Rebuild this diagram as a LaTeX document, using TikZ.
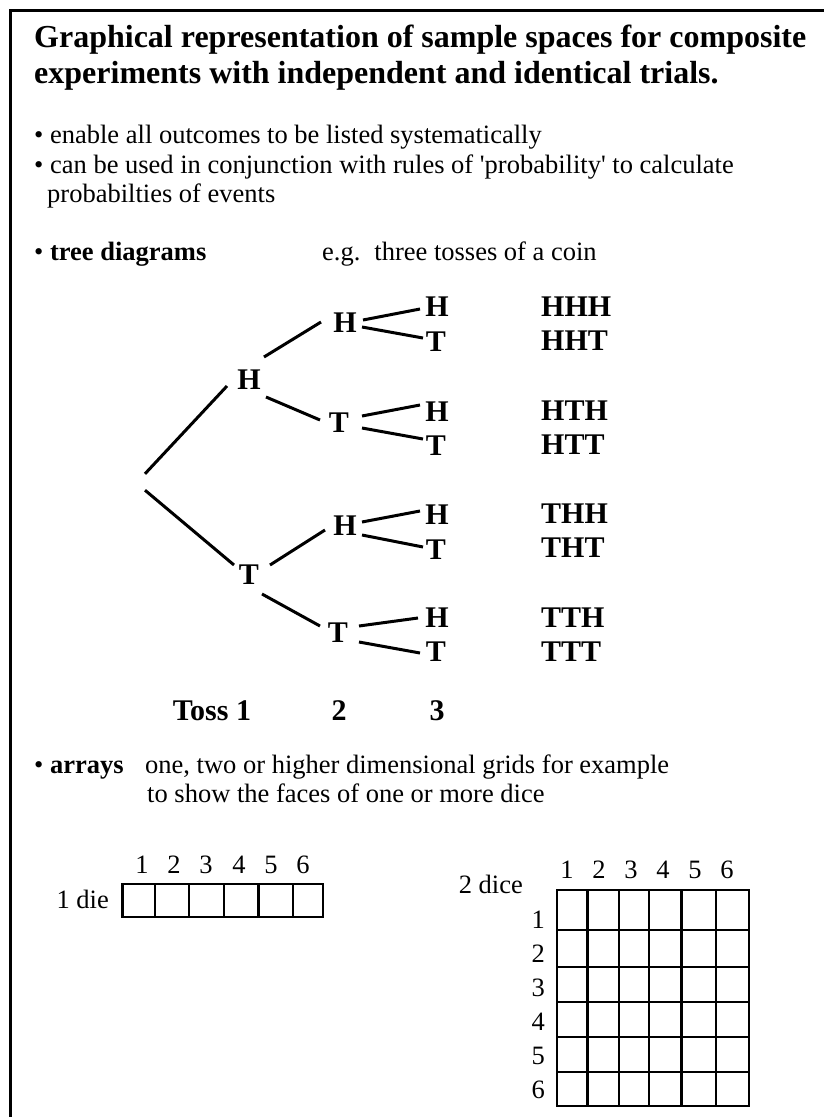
\documentclass[tikz,border=0pt]{standalone}
\usepackage{fontspec}
\setmainfont{Liberation Serif}
\begin{document}
\begin{tikzpicture}[x=1pt,y=-1pt,
  txt/.style={inner sep=0pt, anchor=base west, font=\fontsize{26.5}{30}\selectfont},
  ttl/.style={inner sep=0pt, anchor=base west, font=\fontsize{32}{36}\selectfont\bfseries},
  tr/.style={inner sep=0pt, font=\fontsize{30}{34}\selectfont\bfseries},
  outc/.style={inner sep=0pt, anchor=west, font=\fontsize{30}{34}\selectfont\bfseries},
  branch/.style={line width=3pt},
  gridl/.style={line width=2.3pt},
  frame/.style={line width=2.7pt}]

\useasboundingbox (0,0) rectangle (824,1117);
\fill[white] (0,0) rectangle (824,1117);
\draw[frame, line join=miter] (10.7,1117) -- (10.7,10.7) -- (824,10.7);

% title
\node[ttl] (t1) at (34,47) {Graphical representation of sample spaces for composite};
\node[ttl] (t2) at (34,83) {experiments with independent and identical trials.};

% bullets
\node[txt] (b1) at (34,143) {• enable all outcomes to be listed systematically};
\node[txt] (b2) at (34,173) {• can be used in conjunction with rules of \textquotesingle probability\textquotesingle{} to calculate};
\node[txt] (b3) at (47,202) {probabilties of events};
\node[txt] (td) at (34,260) {• \textbf{tree diagrams}};
\node[txt] (eg) at (322,260) {e.g.\hspace{14pt}three tosses of a coin};

% tree nodes
\node[inner sep=0pt, minimum height=16pt, minimum width=0pt] (root) at (145,482) {};
\node[tr] (L1H) at (249,380) {H};
\node[tr] (L1T) at (249,575) {T};
\node[tr] (L2H1) at (345,323) {H};
\node[tr] (L2T1) at (339,423) {T};
\node[tr] (L2H2) at (345,526) {H};
\node[tr] (L2T2) at (338,633) {T};
\node[tr] (L3H1) at (437,307) {H};
\node[tr] (L3T1) at (436,342) {T};
\node[tr] (L3H2) at (437,412) {H};
\node[tr] (L3T2) at (436,446) {T};
\node[tr] (L3H3) at (437,515) {H};
\node[tr] (L3T3) at (436,550) {T};
\node[tr] (L3H4) at (437,618) {H};
\node[tr] (L3T4) at (436,652) {T};

% outcomes
\node[outc] (o1) at (541,307) {HHH};
\node[outc] (o2) at (541,341) {HHT};
\node[outc] (o3) at (541,411) {HTH};
\node[outc] (o4) at (541,445) {HTT};
\node[outc] (o5) at (541,514) {THH};
\node[outc] (o6) at (541,548) {THT};
\node[outc] (o7) at (541,618) {TTH};
\node[outc] (o8) at (541,652) {TTT};

% toss labels
\node[tr] (toss1) at (212,711) {Toss 1};
\node[tr] (toss2) at (339,711) {2};
\node[tr] (toss3) at (437,711) {3};

% branches
\draw[branch] (root.north) -- ([xshift=-22pt,yshift=-6pt]L1H.center);
\draw[branch] ([xshift=15pt,yshift=23pt]L1H.center) -- ([xshift=-24pt,yshift=1pt]L2H1.center);
\draw[branch] ([xshift=17pt,yshift=-17pt]L1H.center) -- ([xshift=-19pt,yshift=3pt]L2T1.center);
\draw[branch] ([xshift=18pt,yshift=3pt]L2H1.center) -- ([xshift=-17pt,yshift=-2pt]L3H1.center);
\draw[branch] ([xshift=17pt,yshift=-4pt]L2H1.center) -- ([xshift=-13pt,yshift=4pt]L3T1.center);
\draw[branch] ([xshift=23pt,yshift=7pt]L2T1.center) -- ([xshift=-17pt,yshift=7pt]L3H2.center);
\draw[branch] ([xshift=23pt,yshift=-5pt]L2T1.center) -- ([xshift=-13pt,yshift=7pt]L3T2.center);
\draw[branch] (root.south) -- ([xshift=-15pt,yshift=10pt]L1T.center);
\draw[branch] ([xshift=21pt,yshift=10pt]L1T.center) -- ([xshift=-20pt,yshift=-4pt]L2H2.center);
\draw[branch] ([xshift=13pt,yshift=-19pt]L1T.center) -- ([xshift=-18pt,yshift=7pt]L2T2.center);
\draw[branch] ([xshift=17pt,yshift=4pt]L2H2.center) -- ([xshift=-17pt,yshift=4pt]L3H3.center);
\draw[branch] ([xshift=17pt,yshift=-9pt]L2H2.center) -- ([xshift=-13pt,yshift=3pt]L3T3.center);
\draw[branch] ([xshift=21pt,yshift=7pt]L2T2.center) -- ([xshift=-19pt]L3H4.center);
\draw[branch] ([xshift=21pt,yshift=-9pt]L2T2.center) -- ([xshift=-16pt,yshift=-1pt]L3T4.center);

% arrays text
\node[txt] (ar) at (34,773) {• \textbf{arrays}};
\node[txt] (ar1) at (145,773) {one, two or higher dimensional grids for example};
\node[txt] (ar2) at (147,802) {to show the faces of one or more dice};

% 1 die
\node[txt, anchor=base east] (die1) at (109,908) {1 die};
\draw[gridl] (122.4,884.3) rectangle (323,917.3);
\foreach \x in {155,189,224,258.5,292.7} \draw[gridl] (\x,884.3) -- (\x,917.3);
\foreach \i/\x in {1/142,2/174,3/206,4/239,5/271,6/303}
  \node[txt, anchor=base] (da\i) at (\x,873) {\i};

% 2 dice
\node[txt, anchor=base east] (die2) at (523,893) {2 dice};
\draw[gridl] (557,890) rectangle (749,1106);
\foreach \x in {587.5,619,649,681.5,715.7} \draw[gridl] (\x,890) -- (\x,1106);
\foreach \y in {930,967,1002,1037,1072} \draw[gridl] (557,\y) -- (749,\y);
\foreach \i/\x in {1/567,2/599,3/631,4/663,5/695,6/727}
  \node[txt, anchor=base] (dc\i) at (\x,878) {\i};
\foreach \i/\y in {1/928,2/962,3/996,4/1030,5/1064,6/1098}
  \node[txt, anchor=base east] (dr\i) at (545,\y) {\i};
\end{tikzpicture}
\end{document}
